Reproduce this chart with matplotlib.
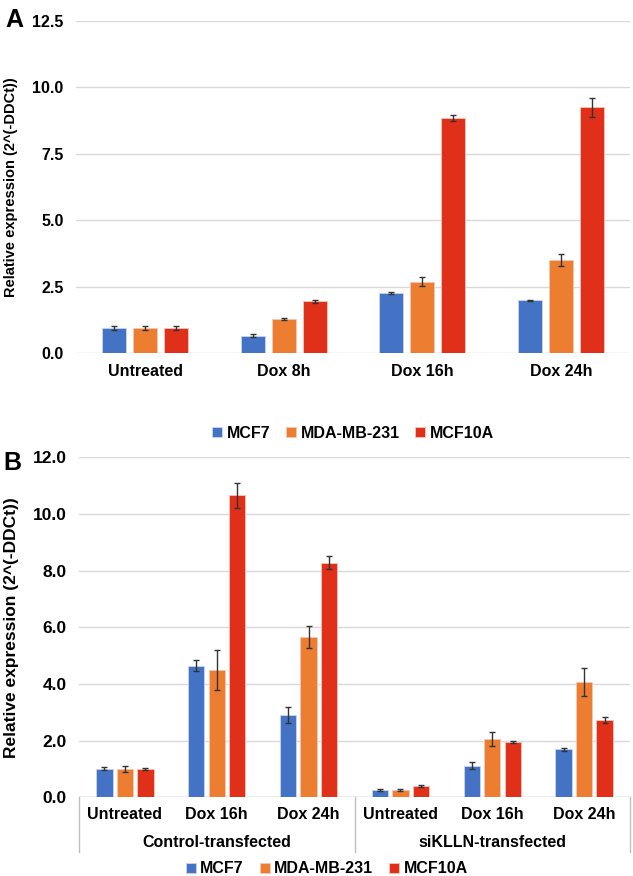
import numpy as np
import matplotlib.pyplot as plt

plt.rcParams['font.family'] = ['Liberation Sans', 'DejaVu Sans']
plt.rcParams['font.weight'] = 'bold'

# Panel A data
cats_a = ["Untreated", "Dox 8h", "Dox 16h", "Dox 24h"]
mcf7_a = [0.95, 0.66, 2.27, 1.99]
mda_a = [0.95, 1.29, 2.69, 3.50]
mcf10a_a = [0.95, 1.95, 8.85, 9.25]
mcf7_a_err = [0.08, 0.06, 0.05, 0.02]
mda_a_err = [0.08, 0.05, 0.17, 0.22]
mcf10a_a_err = [0.06, 0.04, 0.13, 0.35]

# Panel B data
cats_b = ["Untreated", "Dox 16h", "Dox 24h", "Untreated", "Dox 16h", "Dox 24h"]
groups_b = ["Control-transfected", "siKLLN-transfected"]
mcf7_b = [1.01, 4.65, 2.91, 0.26, 1.12, 1.69]
mda_b = [1.01, 4.50, 5.66, 0.26, 2.05, 4.08]
mcf10a_b = [1.01, 10.66, 8.28, 0.40, 1.95, 2.73]
mcf7_b_err = [0.05, 0.18, 0.27, 0.03, 0.12, 0.06]
mda_b_err = [0.10, 0.70, 0.40, 0.02, 0.25, 0.50]
mcf10a_b_err = [0.03, 0.45, 0.22, 0.03, 0.04, 0.10]

series = ["MCF7", "MDA-MB-231", "MCF10A"]
colors = ["#4472C4", "#ED7D31", "#E0301A"]
grid_c = "#D9D9D9"

fig = plt.figure(figsize=(6.33, 8.76), dpi=100)


def draw_bars(ax, vals, errs, width, step):
    x = np.arange(len(vals[0]))
    for i, (v, e) in enumerate(zip(vals, errs)):
        ax.bar(x + (i - 1) * step, v, width, color=colors[i], label=series[i],
               edgecolor="#F4C7B5" if i else "#C9D5EE", linewidth=0.6, zorder=2)
        ax.errorbar(x + (i - 1) * step, v, yerr=e, fmt="none", ecolor="#333333",
                    elinewidth=1, capsize=2.3, capthick=1, zorder=3)
    return x


def style(ax):
    for s in ax.spines.values():
        s.set_visible(False)
    ax.yaxis.grid(True, color=grid_c, linewidth=1)
    ax.set_axisbelow(True)
    ax.tick_params(axis="both", length=0)
    ax.tick_params(axis="y", pad=9)


# ---- Panel A
ax1 = fig.add_axes([76 / 633, 1 - 353.3 / 876, 554 / 633, 332.3 / 876])
x = draw_bars(ax1, [mcf7_a, mda_a, mcf10a_a], [mcf7_a_err, mda_a_err, mcf10a_a_err], 0.173, 0.224)
ax1.set_xlim(-0.5, 3.5)
ax1.set_ylim(0, 12.5)
ax1.set_yticks(np.arange(0, 12.6, 2.5))
ax1.set_yticklabels([f"{t:.1f}" for t in np.arange(0, 12.6, 2.5)], fontsize=11.5, fontweight="bold")
ax1.set_xticks(x)
ax1.set_xticklabels(cats_a, fontsize=11.5, fontweight="bold")
ax1.tick_params(axis="x", pad=8)
style(ax1)
ax1.set_ylabel("Relative expression (2^(-DDCt))", fontsize=10.5, fontweight="bold")
ax1.yaxis.set_label_coords(-58 / 554, 0.5)
ax1.legend(loc="upper center", bbox_to_anchor=(0.5, -0.175), ncol=3, frameon=False,
           fontsize=11.5, handlelength=0.6, handleheight=0.6, handletextpad=0.3, columnspacing=1.0)
fig.text(5 / 633, 1 - 27 / 876, "A", fontsize=18, fontweight="bold")

# ---- Panel B
ax2 = fig.add_axes([79 / 633, 1 - 797.3 / 876, 551 / 633, 340 / 876])
x = draw_bars(ax2, [mcf7_b, mda_b, mcf10a_b], [mcf7_b_err, mda_b_err, mcf10a_b_err], 0.178, 0.223)
ax2.set_xlim(-0.5, 5.5)
ax2.set_ylim(0, 12)
ax2.set_yticks(np.arange(0, 12.1, 2))
ax2.set_yticklabels([f"{t:.1f}" for t in np.arange(0, 12.1, 2)], fontsize=12.5, fontweight="bold")
ax2.set_xticks(x)
ax2.set_xticklabels(cats_b, fontsize=11.5, fontweight="bold")
ax2.tick_params(axis="x", pad=7)
style(ax2)
ax2.set_ylabel("Relative expression (2^(-DDCt))", fontsize=12.5, fontweight="bold")
ax2.yaxis.set_label_coords(-60 / 551, 0.5)
ax2.axhline(0, color="#BFBFBF", linewidth=1, zorder=1)
tr = ax2.get_xaxis_transform()
for xv in [-0.5, 2.5, 5.5]:
    ax2.plot([xv, xv], [0, -0.162], color="#BFBFBF", linewidth=1, transform=tr, clip_on=False)
ax2.text(1, -0.132, groups_b[0], transform=tr, ha="center", va="center", fontsize=11.5, fontweight="bold")
ax2.text(4, -0.132, groups_b[1], transform=tr, ha="center", va="center", fontsize=11.5, fontweight="bold")
ax2.legend(loc="upper center", bbox_to_anchor=(0.45, -0.146), ncol=3, frameon=False,
           fontsize=11.5, handlelength=0.6, handleheight=0.6, handletextpad=0.3, columnspacing=1.0)
fig.text(3 / 633, 1 - 470 / 876, "B", fontsize=18, fontweight="bold")

fig.savefig("out.png", dpi=100)
